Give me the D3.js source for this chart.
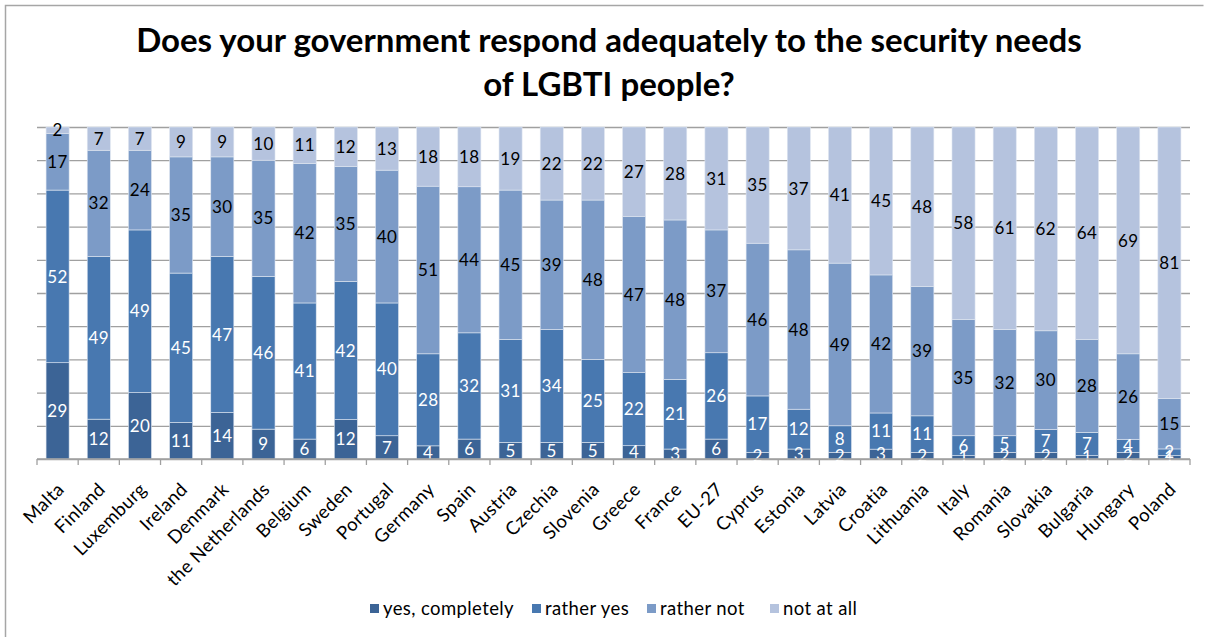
<!DOCTYPE html>
<html>
<head>
<meta charset="utf-8">
<script src="https://cdn.jsdelivr.net/npm/d3@7"></script>
<style>
  body { margin: 0; background: #fff; }
  svg { display: block; font-family: Lato, "Open Sans", sans-serif; }
</style>
</head>
<body>
<div id="chart"></div>
<script>
var countries = ["Malta", "Finland", "Luxemburg", "Ireland", "Denmark", "the Netherlands", "Belgium",
  "Sweden", "Portugal", "Germany", "Spain", "Austria", "Czechia", "Slovenia", "Greece", "France",
  "EU-27", "Cyprus", "Estonia", "Latvia", "Croatia", "Lithuania", "Italy", "Romania", "Slovakia",
  "Bulgaria", "Hungary", "Poland"];

var yesCompletely = [29, 12, 20, 11, 14, 9, 6, 12, 7, 4, 6, 5, 5, 5, 4, 3, 6, 2, 3, 2, 3, 2, 1, 2, 2, 1, 2, 1];
var ratherYes     = [52, 49, 49, 45, 47, 46, 41, 42, 40, 28, 32, 31, 34, 25, 22, 21, 26, 17, 12, 8, 11, 11, 6, 5, 7, 7, 4, 2];
var ratherNot     = [17, 32, 24, 35, 30, 35, 42, 35, 40, 51, 44, 45, 39, 48, 47, 48, 37, 46, 48, 49, 42, 39, 35, 32, 30, 28, 26, 15];
var notAtAll      = [2, 7, 7, 9, 9, 10, 11, 12, 13, 18, 18, 19, 22, 22, 27, 28, 31, 35, 37, 41, 45, 48, 58, 61, 62, 64, 69, 81];

var seriesNames = ["yes, completely", "rather yes", "rather not", "not at all"];
var seriesColors = ["#3c6496", "#4878b0", "#7c9bc7", "#b5c3de"];
var labelColors = ["#fff", "#fff", "#000", "#000"];
var gridTicks = [0, 0.1, 0.2, 0.3, 0.4, 0.5, 0.6, 0.7, 0.8, 0.9, 1];

var title1 = "Does your government respond adequately to the security needs";
var title2 = "of LGBTI people?";

var svgWidth = 1209, svgHeight = 637;
var margin = { top: 127, right: 19, bottom: 178, left: 37 };
var width = svgWidth - margin.left - margin.right;
var height = svgHeight - margin.top - margin.bottom;

var rows = countries.map(function(c, i) {
  return { country: c, s0: yesCompletely[i], s1: ratherYes[i], s2: ratherNot[i], s3: notAtAll[i] };
});
var keys = ["s0", "s1", "s2", "s3"];
var stacked = d3.stack().keys(keys).offset(d3.stackOffsetExpand)(rows);

var svg = d3.select("#chart").append("svg")
  .attr("width", svgWidth)
  .attr("height", svgHeight);

// outer frame, only left and top edges are in view
svg.append("path")
  .attr("d", "M5.5,640V5.5H1203.5")
  .attr("fill", "none")
  .attr("stroke", "#a6a6a6")
  .attr("stroke-width", 1.5);

svg.append("text")
  .attr("x", 609).attr("y", 52)
  .attr("text-anchor", "middle")
  .attr("font-size", 33).attr("font-weight", "bold")
  .text(title1);
svg.append("text")
  .attr("x", 609).attr("y", 96)
  .attr("text-anchor", "middle")
  .attr("font-size", 33).attr("font-weight", "bold")
  .text(title2);

var g = svg.append("g")
  .attr("transform", "translate(" + margin.left + "," + margin.top + ")");

var x = d3.scaleBand()
  .domain(countries)
  .range([0, width])
  .paddingInner(0.44)
  .paddingOuter(0.22);

var y = d3.scaleLinear()
  .domain([0, 1])
  .range([height, 0]);

// gridlines
g.append("g")
  .call(d3.axisLeft(y).tickValues(gridTicks).tickSize(-width).tickFormat(""))
  .call(function(a) {
    a.select(".domain").remove();
    a.selectAll(".tick line").attr("stroke", "#a0a0a0").attr("stroke-width", 1.3);
  });

// bars
var layer = g.selectAll(".layer")
  .data(stacked)
  .enter().append("g")
  .attr("fill", function(d, i) { return seriesColors[i]; });

layer.selectAll("rect")
  .data(function(d) { return d; })
  .enter().append("rect")
  .attr("x", function(d) { return x(d.data.country); })
  .attr("y", function(d) { return y(d[1]); })
  .attr("width", x.bandwidth())
  .attr("height", function(d) { return y(d[0]) - y(d[1]); })
  .attr("stroke", "#dfe6f1")
  .attr("stroke-width", 0.6);

// data labels
stacked.forEach(function(s, si) {
  g.append("g").selectAll("text")
    .data(s)
    .enter().append("text")
    .attr("x", function(d) { return x(d.data.country) + x.bandwidth() / 2; })
    .attr("y", function(d) { return y((d[0] + d[1]) / 2); })
    .attr("dy", "0.36em")
    .attr("text-anchor", "middle")
    .attr("font-size", 17)
    .attr("letter-spacing", 0.4)
    .attr("fill", labelColors[si])
    .text(function(d) { return d.data[keys[si]]; });
});

// x axis with category ticks on boundaries
var step = x.step();
var axisG = g.append("g")
  .attr("transform", "translate(0," + height + ")");
axisG.append("line")
  .attr("x1", 0).attr("x2", width)
  .attr("stroke", "#a0a0a0").attr("stroke-width", 1.3);
axisG.selectAll(".tk")
  .data(d3.range(countries.length + 1))
  .enter().append("line")
  .attr("x1", function(i) { return i * step; })
  .attr("x2", function(i) { return i * step; })
  .attr("y1", 0).attr("y2", 6)
  .attr("stroke", "#a0a0a0").attr("stroke-width", 1.3);

axisG.selectAll(".lbl")
  .data(countries)
  .enter().append("text")
  .attr("transform", function(d) {
    return "translate(" + (x(d) + x.bandwidth() / 2 + 3) + ",27) rotate(-45)";
  })
  .attr("text-anchor", "end")
  .attr("dy", "0.35em")
  .attr("font-size", 18.5)
  .attr("letter-spacing", 0.4)
  .text(function(d) { return d; });

// legend
var legendX = [370, 532, 647, 770];
var legend = svg.append("g");
seriesNames.forEach(function(name, i) {
  legend.append("rect")
    .attr("x", legendX[i]).attr("y", 604)
    .attr("width", 9).attr("height", 9)
    .attr("fill", seriesColors[i]);
  legend.append("text")
    .attr("x", legendX[i] + 13).attr("y", 609)
    .attr("dy", "0.35em")
    .attr("font-size", 18.5)
    .attr("letter-spacing", 0.4)
    .text(name);
});
</script>
</body>
</html>
